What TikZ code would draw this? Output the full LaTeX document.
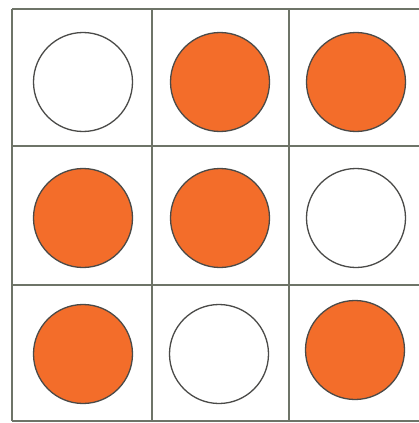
\documentclass[tikz,border=0pt]{standalone}
\usepackage{xcolor}
\usepackage{tikz}
\definecolor{dotorange}{HTML}{F36D2A}
\definecolor{rimgray}{HTML}{4A4A48}
\definecolor{gridgray}{HTML}{6E7468}
\begin{document}
\begin{tikzpicture}[
  x=1pt,y=-1pt,
  gridline/.style={draw=gridgray,line width=1.3pt},
  dot/.style={circle,draw=rimgray,line width=1.3pt,minimum size=99pt,inner sep=0pt},
  full/.style={dot,fill=dotorange},
  empty/.style={dot,fill=white}
]
\useasboundingbox (0,0) rectangle (419,423);
\fill[white] (0,0) rectangle (419,423);
% grid
\draw[gridline] (12,9) -- (419,9);
\draw[gridline] (12,146) -- (419,146);
\draw[gridline] (12,285) -- (419,285);
\draw[gridline] (12,421) -- (419,421);
\draw[gridline] (12,9) -- (12,421);
\draw[gridline] (152,9) -- (152,421);
\draw[gridline] (289,9) -- (289,421);
% top row
\node[empty] (c11) at (83,82) {};
\node[full] (c12) at (220,82) {};
\node[full] (c13) at (356,82) {};
% middle row
\node[full] (c21) at (83,218) {};
\node[full] (c22) at (220,218) {};
\node[empty] (c23) at (356,218) {};
% bottom row
\node[full] (c31) at (83,354) {};
\node[empty] (c32) at (219,354) {};
\node[full] (c33) at (355,350) {};
\end{tikzpicture}
\end{document}
